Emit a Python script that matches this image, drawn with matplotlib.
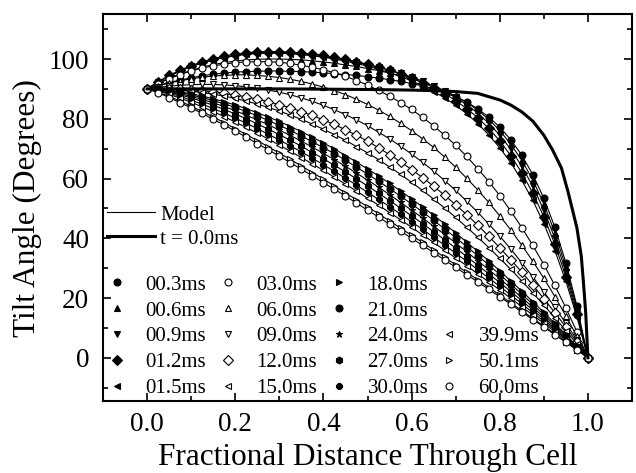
import numpy as np
import matplotlib
matplotlib.use('Agg')
import matplotlib.pyplot as plt
from matplotlib.lines import Line2D
from matplotlib.ticker import FormatStrFormatter

plt.rcParams['font.family'] = ['Liberation Serif', 'DejaVu Serif']

# fractional distance through the cell (same grid for every data set)
dist = np.linspace(0, 1, 41)

# tilt angle profiles, one list per time step
t00_3 = [90.0, 91.1, 92.1, 93.0, 93.7, 94.4, 94.9, 95.3, 95.6, 95.8, 95.9, 96.0, 96.0, 95.9, 95.8, 95.6, 95.4,
         95.1, 94.8, 94.5, 94.1, 93.6, 93.1, 92.5, 91.8, 91.0, 90.0, 88.8, 87.3, 85.6, 83.3, 80.6, 77.2, 73.0,
         67.8, 61.3, 53.4, 43.7, 31.8, 17.4, 0.0]
t00_6 = [90.0, 91.9, 93.6, 95.0, 96.2, 97.3, 98.1, 98.8, 99.3, 99.7, 99.9, 100.0, 100.0, 99.9, 99.7, 99.4, 99.0,
         98.6, 98.0, 97.5, 96.8, 96.1, 95.3, 94.4, 93.4, 92.3, 91.0, 89.4, 87.6, 85.5, 82.9, 79.8, 76.1, 71.5,
         66.1, 59.5, 51.5, 41.9, 30.3, 16.5, 0.0]
t00_9 = [90.0, 92.3, 94.3, 96.0, 97.5, 98.7, 99.7, 100.5, 101.2, 101.6, 101.9, 102.0, 102.0, 101.8, 101.6, 101.2,
         100.8, 100.2, 99.6, 98.9, 98.1, 97.2, 96.3, 95.2, 94.0, 92.6, 91.0, 89.2, 87.2, 84.7, 81.9, 78.5, 74.5,
         69.8, 64.1, 57.4, 49.4, 40.0, 28.8, 15.6, 0.0]
t01_2 = [90.0, 92.4, 94.5, 96.3, 97.8, 99.1, 100.1, 101.0, 101.6, 102.1, 102.4, 102.5, 102.5, 102.3, 102.0, 101.7,
         101.2, 100.6, 99.9, 99.1, 98.3, 97.3, 96.2, 95.0, 93.6, 92.1, 90.4, 88.4, 86.1, 83.4, 80.4, 76.8, 72.6,
         67.7, 61.9, 55.1, 47.2, 38.0, 27.2, 14.6, 0.0]
t01_5 = [90.0, 92.3, 94.3, 96.0, 97.5, 98.7, 99.7, 100.5, 101.1, 101.6, 101.9, 102.0, 101.9, 101.8, 101.5, 101.1,
         100.6, 100.0, 99.3, 98.5, 97.6, 96.6, 95.4, 94.1, 92.7, 91.0, 89.1, 87.0, 84.5, 81.7, 78.4, 74.6, 70.3,
         65.3, 59.4, 52.7, 44.9, 35.9, 25.6, 13.7, 0.0]
t03_0 = [90.0, 91.8, 93.4, 94.8, 96.0, 97.0, 97.7, 98.3, 98.8, 99.0, 99.1, 99.1, 98.9, 98.5, 97.9, 97.2, 96.4,
         95.4, 94.2, 92.8, 91.3, 89.5, 87.6, 85.4, 83.1, 80.5, 77.6, 74.5, 71.1, 67.4, 63.3, 59.0, 54.3, 49.1,
         43.6, 37.6, 31.2, 24.2, 16.7, 8.7, 0.0]
t06_0 = [90.0, 91.0, 92.0, 92.7, 93.4, 93.9, 94.3, 94.5, 94.7, 94.7, 94.5, 94.2, 93.8, 93.2, 92.5, 91.6, 90.6,
         89.4, 88.1, 86.5, 84.8, 82.9, 80.8, 78.5, 76.0, 73.3, 70.4, 67.2, 63.8, 60.1, 56.2, 52.0, 47.5, 42.8,
         37.7, 32.3, 26.6, 20.5, 14.0, 7.2, 0.0]
t09_0 = [90.0, 90.5, 90.9, 91.2, 91.4, 91.5, 91.5, 91.3, 91.1, 90.7, 90.2, 89.6, 88.9, 88.0, 87.0, 85.8, 84.5,
         83.0, 81.4, 79.6, 77.7, 75.5, 73.3, 70.8, 68.2, 65.4, 62.5, 59.3, 56.0, 52.4, 48.7, 44.8, 40.7, 36.4,
         31.8, 27.1, 22.1, 16.9, 11.5, 5.9, 0.0]
t12_0 = [90.0, 90.0, 89.9, 89.8, 89.6, 89.3, 89.0, 88.5, 88.0, 87.3, 86.6, 85.7, 84.7, 83.7, 82.4, 81.1, 79.6,
         78.1, 76.3, 74.5, 72.5, 70.3, 68.0, 65.6, 63.0, 60.3, 57.4, 54.4, 51.2, 47.9, 44.4, 40.7, 36.8, 32.8,
         28.7, 24.3, 19.8, 15.1, 10.3, 5.2, 0.0]
t15_0 = [90.0, 90.0, 89.8, 89.6, 89.2, 88.8, 88.2, 87.6, 86.8, 85.9, 84.9, 83.8, 82.6, 81.2, 79.8, 78.2, 76.5,
         74.7, 72.8, 70.7, 68.6, 66.3, 63.9, 61.4, 58.7, 56.0, 53.1, 50.1, 47.0, 43.7, 40.4, 36.9, 33.3, 29.6,
         25.7, 21.7, 17.6, 13.4, 9.1, 4.6, 0.0]
t18_0 = [90.0, 89.9, 89.5, 89.0, 88.4, 87.6, 86.7, 85.7, 84.6, 83.4, 82.0, 80.6, 79.1, 77.4, 75.7, 73.8, 71.9,
         69.9, 67.7, 65.5, 63.2, 60.9, 58.4, 55.8, 53.2, 50.5, 47.7, 44.8, 41.8, 38.7, 35.6, 32.4, 29.1, 25.7,
         22.3, 18.8, 15.2, 11.5, 7.7, 3.9, 0.0]
t21_0 = [90.0, 89.8, 89.4, 88.8, 88.0, 87.1, 86.1, 85.0, 83.8, 82.4, 81.0, 79.4, 77.8, 76.1, 74.2, 72.3, 70.3,
         68.3, 66.1, 63.8, 61.5, 59.1, 56.6, 54.1, 51.5, 48.8, 46.0, 43.1, 40.2, 37.2, 34.2, 31.1, 27.9, 24.6,
         21.3, 17.9, 14.4, 10.9, 7.3, 3.7, 0.0]
t24_0 = [90.0, 89.7, 89.2, 88.4, 87.5, 86.5, 85.3, 84.1, 82.7, 81.2, 79.6, 78.0, 76.2, 74.4, 72.5, 70.5, 68.4,
         66.3, 64.1, 61.8, 59.5, 57.1, 54.6, 52.0, 49.4, 46.8, 44.0, 41.3, 38.4, 35.5, 32.5, 29.5, 26.5, 23.3,
         20.2, 16.9, 13.6, 10.3, 6.9, 3.5, 0.0]
t27_0 = [90.0, 89.6, 88.9, 88.0, 87.0, 85.8, 84.5, 83.1, 81.6, 80.0, 78.3, 76.5, 74.7, 72.8, 70.8, 68.7, 66.6,
         64.4, 62.2, 59.9, 57.5, 55.1, 52.6, 50.1, 47.5, 44.9, 42.2, 39.5, 36.7, 33.9, 31.0, 28.1, 25.2, 22.2,
         19.1, 16.0, 12.9, 9.7, 6.5, 3.3, 0.0]
t30_0 = [90.0, 89.4, 88.6, 87.5, 86.2, 84.9, 83.4, 81.9, 80.2, 78.5, 76.7, 74.8, 72.9, 70.9, 68.9, 66.8, 64.6,
         62.4, 60.1, 57.8, 55.4, 53.0, 50.6, 48.1, 45.5, 43.0, 40.3, 37.7, 35.0, 32.3, 29.5, 26.7, 23.9, 21.0,
         18.1, 15.1, 12.2, 9.2, 6.2, 3.1, 0.0]
t39_9 = [90.0, 89.3, 88.2, 86.9, 85.5, 84.0, 82.4, 80.7, 78.9, 77.1, 75.2, 73.2, 71.2, 69.1, 67.0, 64.9, 62.7,
         60.4, 58.1, 55.8, 53.4, 51.1, 48.6, 46.2, 43.7, 41.1, 38.6, 36.0, 33.4, 30.8, 28.1, 25.4, 22.7, 19.9,
         17.1, 14.3, 11.5, 8.7, 5.8, 2.9, 0.0]
t50_1 = [90.0, 88.9, 87.5, 85.9, 84.2, 82.4, 80.6, 78.7, 76.7, 74.7, 72.7, 70.6, 68.5, 66.4, 64.2, 62.0, 59.8,
         57.5, 55.2, 52.9, 50.6, 48.2, 45.8, 43.4, 41.0, 38.6, 36.1, 33.6, 31.1, 28.6, 26.1, 23.5, 21.0, 18.4,
         15.8, 13.2, 10.6, 8.0, 5.3, 2.7, 0.0]
t60_0 = [90.0, 88.7, 87.1, 85.4, 83.6, 81.8, 79.8, 77.9, 75.9, 73.8, 71.7, 69.6, 67.5, 65.3, 63.1, 60.9, 58.6,
         56.4, 54.1, 51.8, 49.4, 47.1, 44.7, 42.4, 40.0, 37.6, 35.2, 32.7, 30.3, 27.8, 25.4, 22.9, 20.4, 17.9,
         15.3, 12.8, 10.3, 7.7, 5.2, 2.6, 0.0]

# initial (t = 0) profile
t0_dist = [0, 0.1, 0.2, 0.3, 0.4, 0.5, 0.6, 0.65, 0.7, 0.75, 0.8, 0.825, 0.85, 0.875,
           0.9, 0.92, 0.94, 0.955, 0.965, 0.975, 0.985, 0.99, 0.995, 1.0]
t0_angle = [90, 90, 90, 90, 89.9, 89.8, 89.6, 89.4, 89.1, 88.5, 86.3, 84.6, 82.3, 79.2,
            74.5, 69.5, 63.5, 55.5, 49.5, 43.5, 34, 25, 15, 0]

labels = ['00.3ms', '00.6ms', '00.9ms', '01.2ms', '01.5ms',
          '03.0ms', '06.0ms', '09.0ms', '12.0ms', '15.0ms',
          '18.0ms', '21.0ms', '24.0ms', '27.0ms', '30.0ms',
          '39.9ms', '50.1ms', '60.0ms']
profiles = [t00_3, t00_6, t00_9, t01_2, t01_5, t03_0, t06_0, t09_0, t12_0, t15_0,
            t18_0, t21_0, t24_0, t27_0, t30_0, t39_9, t50_1, t60_0]
markers = ['o', '^', 'v', 'D', '<', 'o', '^', 'v', 'D', '<',
           '>', 'o', '*', 'h', '8', '<', '>', 'o']
filled = [True] * 5 + [False] * 5 + [True] * 5 + [False] * 3

fig = plt.figure(figsize=(6.36, 4.73), dpi=100)
ax = fig.add_axes([0.162, 0.152, 0.8317, 0.818])

ax.plot(t0_dist, t0_angle, color='black', lw=2.2, zorder=3)

handles = []
for angle, mk, f, lab in zip(profiles, markers, filled, labels):
    fc = 'black' if f else 'white'
    ax.plot(dist, angle, color='black', lw=0.8, marker=mk, ms=5, mfc=fc, mec='black', mew=0.8)
    handles.append(Line2D([], [], ls='none', marker=mk, ms=5, mfc=fc, mec='black', mew=0.8, label=lab))

# marker legend: 4 columns, the last one only has 3 entries at the bottom
blank = Line2D([], [], ls='none', label='')
leg_handles = handles[:15] + [blank, blank] + handles[15:]
leg2 = ax.legend(handles=leg_handles, ncol=4, loc='lower left', bbox_to_anchor=(0.006, 0.008),
                 frameon=False, fontsize=15, handlelength=1.0, handletextpad=0.89,
                 columnspacing=0.52, labelspacing=0.3, borderpad=0, borderaxespad=0)
ax.add_artist(leg2)

h_model = Line2D([], [], color='black', lw=0.8, label='Model')
h_t0 = Line2D([], [], color='black', lw=2.2, label='t = 0.0ms')
ax.legend(handles=[h_model, h_t0], loc='upper left', bbox_to_anchor=(0.0076, 0.507),
          frameon=False, fontsize=15, handlelength=2.3, handletextpad=0.24,
          labelspacing=0.22, borderpad=0, borderaxespad=0)

ax.set_xlim(-0.1, 1.1)
ax.set_ylim(-14.5, 115)
ax.set_xticks([0.0, 0.2, 0.4, 0.6, 0.8, 1.0])
ax.set_xticks(np.arange(-0.1, 1.11, 0.1), minor=True)
ax.set_yticks([0, 20, 40, 60, 80, 100])
ax.set_yticks(np.arange(-10, 111, 10), minor=True)
ax.xaxis.set_major_formatter(FormatStrFormatter('%.1f'))
ax.tick_params(which='both', direction='in', top=True, right=True, labelsize=19.5, width=1.2)
ax.tick_params(which='major', length=6)
ax.tick_params(which='minor', length=3.5)
ax.tick_params(axis='x', pad=8)
ax.tick_params(axis='y', pad=10)
for s in ax.spines.values():
    s.set_linewidth(1.5)

ax.set_xlabel('Fractional Distance Through Cell', fontsize=22.5, labelpad=4)
ax.set_ylabel('Tilt Angle (Degrees)', fontsize=22.5, labelpad=5)

fig.savefig('out.png', dpi=100)
